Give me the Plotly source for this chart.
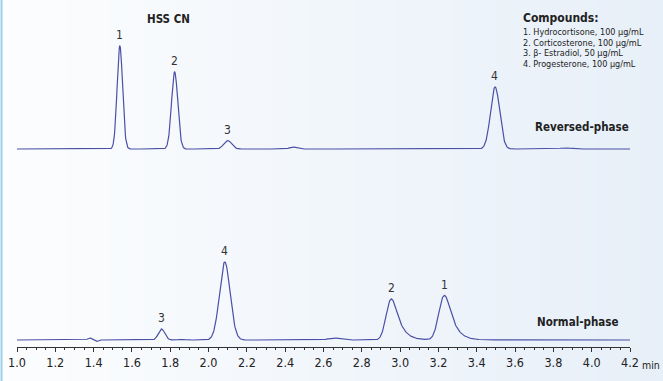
import math
import numpy as np
import plotly.graph_objects as go

# ---------------- data ----------------
x_ticks = [1.0, 1.2, 1.4, 1.6, 1.8, 2.0, 2.2, 2.4, 2.6, 2.8, 3.0, 3.2, 3.4, 3.6, 3.8, 4.0, 4.2]
x_tick_labels = ["1.0", "1.2", "1.4", "1.6", "1.8", "2.0", "2.2", "2.4", "2.6", "2.8",
                 "3.0", "3.2", "3.4", "3.6", "3.8", "4.0", "4.2"]

# Reversed-phase chromatogram: labelled peaks
rp_labels = ["1", "2", "3", "4"]
rp_times = [1.536, 1.822, 2.099, 3.495]
rp_heights = [103, 77, 8.5, 62]
rp_sigma = [0.0140, 0.0160, 0.020, 0.0235]
rp_tau = [0.003, 0.003, 0.004, 0.004]
# Reversed-phase: small baseline features
rp_minor_times = [1.15, 2.44, 3.86, 4.05]
rp_minor_heights = [0.6, 2.0, 1.0, 0.5]
rp_minor_sigma = [0.02, 0.018, 0.03, 0.03]

# Normal-phase chromatogram: labelled peaks
np_labels = ["3", "4", "2", "1"]
np_times = [1.754, 2.085, 2.954, 3.231]
np_heights = [11, 78, 41, 44.5]
np_sigma = [0.016, 0.027, 0.022, 0.024]
np_tau = [0.005, 0.007, 0.036, 0.036]
# Normal-phase: small baseline features
np_minor_times = [1.38, 1.415, 1.86, 2.655]
np_minor_heights = [2.0, -1.5, 0.6, 2.0]
np_minor_sigma = [0.010, 0.008, 0.015, 0.03]

compounds_title = "Compounds:"
compounds = ["1. Hydrocortisone, 100 µg/mL",
             "2. Corticosterone, 100 µg/mL",
             "3. β- Estradiol, 50 µg/mL",
             "4. Progesterone, 100 µg/mL"]

# ---------------- rendering helpers ----------------
t = np.linspace(1.0, 4.2, 1601)


def emg_peak(apex, height, sigma, tau):
    """Exponentially modified Gaussian, apex placed at `apex`, scaled to `height`."""
    mu = apex
    x = t - mu
    arg = np.clip(sigma ** 2 / (2 * tau ** 2) - x / tau, -700, 700)
    z = (sigma / tau - x / sigma) / math.sqrt(2)
    erfc = np.array([math.erfc(v) for v in z])
    y = np.exp(arg) * erfc
    shift = t[np.argmax(y)] - apex
    y = np.interp(t, t - shift, y)
    return height * y / y.max()


def gauss(c, h, s):
    return h * np.exp(-0.5 * ((t - c) / s) ** 2)


rp_signal = np.zeros_like(t)
for c, h, s, ta in zip(rp_times, rp_heights, rp_sigma, rp_tau):
    rp_signal += emg_peak(c, h, s, ta)
for c, h, s in zip(rp_minor_times, rp_minor_heights, rp_minor_sigma):
    rp_signal += gauss(c, h, s)

np_signal = np.zeros_like(t)
for c, h, s, ta in zip(np_times, np_heights, np_sigma, np_tau):
    np_signal += emg_peak(c, h, s, ta)
for c, h, s in zip(np_minor_times, np_minor_heights, np_minor_sigma):
    np_signal += gauss(c, h, s)

# ---------------- layout geometry ----------------
W, H = 663, 381
ML, MR, MT, MB = 17, 33, 0, 34
PW, PH = W - ML - MR, H - MT - MB


def px(xp):
    return (xp - ML) / PW


def py(yp):
    return (H - MB - yp) / PH


FONT = "DejaVu Sans Condensed, Roboto, sans-serif"
LINE = "#4a50a6"
TXT = "#222222"

fig = go.Figure()
fig.add_trace(go.Scatter(x=t, y=np_signal, mode="lines", line=dict(color=LINE, width=1.2),
                         hoverinfo="skip", showlegend=False, yaxis="y"))
fig.add_trace(go.Scatter(x=t, y=rp_signal, mode="lines", line=dict(color=LINE, width=1.2),
                         hoverinfo="skip", showlegend=False, yaxis="y2"))

annotations = []
for lab, c, h in zip(rp_labels, rp_times, rp_heights):
    annotations.append(dict(x=c, y=h, xref="x", yref="y2", text=lab, showarrow=False,
                            yanchor="bottom", yshift=2, font=dict(size=12, color="#333333", family=FONT)))
for lab, c, h in zip(np_labels, np_times, np_heights):
    annotations.append(dict(x=c, y=h, xref="x", yref="y", text=lab, showarrow=False,
                            yanchor="bottom", yshift=2, font=dict(size=12, color="#333333", family=FONT)))

annotations.append(dict(x=px(168), y=py(19), xref="paper", yref="paper", text="<b>HSS CN</b>",
                        showarrow=False, xanchor="center", yanchor="middle",
                        font=dict(size=11.5, color=TXT, family=FONT)))
annotations.append(dict(x=px(533), y=py(127), xref="paper", yref="paper", text="<b>Reversed-phase</b>",
                        showarrow=False, xanchor="left", yanchor="middle",
                        font=dict(size=11.5, color=TXT, family=FONT)))
annotations.append(dict(x=px(535), y=py(322), xref="paper", yref="paper", text="<b>Normal-phase</b>",
                        showarrow=False, xanchor="left", yanchor="middle",
                        font=dict(size=11.5, color=TXT, family=FONT)))
annotations.append(dict(x=px(521), y=py(18), xref="paper", yref="paper", text="<b>" + compounds_title + "</b>",
                        showarrow=False, xanchor="left", yanchor="middle",
                        font=dict(size=12, color=TXT, family=FONT)))
for i, s in enumerate(compounds):
    annotations.append(dict(x=px(521), y=py(32.5 + 10.4 * i), xref="paper", yref="paper", text=s,
                            showarrow=False, xanchor="left", yanchor="middle",
                            font=dict(size=9, color=TXT, family=FONT)))
annotations.append(dict(x=4.2, y=py(365), xref="x", yref="paper", text="min", showarrow=False,
                        xanchor="left", yanchor="middle", xshift=10,
                        font=dict(size=10.5, color=TXT, family=FONT)))

# background gradient (left near-white to light blue on the right)
shapes = []
n_strips = 60
c0 = np.array([252, 253, 254])
c1 = np.array([231, 239, 248])
for i in range(n_strips):
    f = (i + 0.5) / n_strips
    col = (c0 + (c1 - c0) * f).round().astype(int)
    x0p = W * i / n_strips
    x1p = W * (i + 1) / n_strips + 0.6
    shapes.append(dict(type="rect", xref="paper", yref="paper", x0=px(x0p), x1=px(x1p),
                       y0=py(H + 2), y1=py(-2), line=dict(width=0),
                       fillcolor="rgb(%d,%d,%d)" % tuple(col), layer="below"))
shapes.append(dict(type="line", xref="paper", yref="paper", x0=px(1.5), x1=px(1.5),
                   y0=py(H + 2), y1=py(-2), line=dict(color="#9fd0ea", width=2), layer="above"))

fig.update_layout(
    width=W, height=H,
    margin=dict(l=ML, r=MR, t=MT, b=MB, pad=0),
    paper_bgcolor="#fbfcfe",
    plot_bgcolor="rgba(0,0,0,0)",
    showlegend=False,
    annotations=annotations,
    shapes=shapes,
    xaxis=dict(range=[1.0, 4.2], tickmode="array", tickvals=x_ticks, ticktext=x_tick_labels,
               showline=True, linecolor="#333333", linewidth=1, ticks="outside", ticklen=4,
               tickwidth=1, tickcolor="#333333", showgrid=False, zeroline=False,
               tickfont=dict(size=12.5, color=TXT, family=FONT),
               minor=dict(dtick=0.05, tick0=1.0, ticks="outside", ticklen=2, tickwidth=1,
                          tickcolor="#333333", showgrid=False)),
    yaxis=dict(range=[-7, 340], visible=False, domain=[0, 1], fixedrange=True),
    yaxis2=dict(range=[-198, 149], visible=False, overlaying="y", fixedrange=True),
)

fig.write_html("out.html", config={"displayModeBar": False},
               post_script="document.body.style.margin='0';document.body.style.padding='0';")
